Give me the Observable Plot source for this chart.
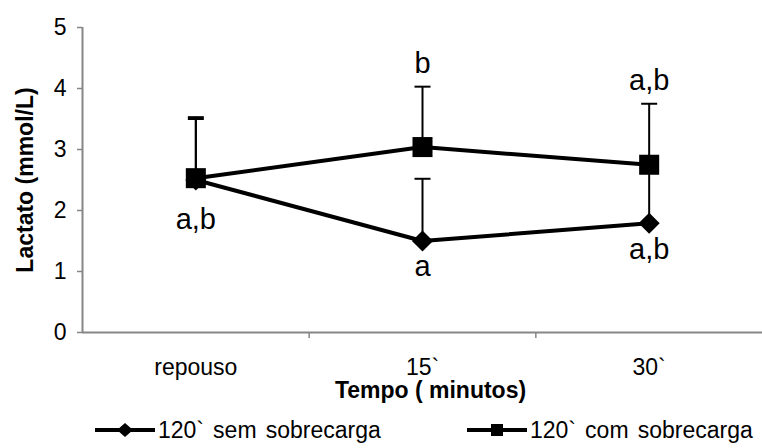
<!DOCTYPE html>
<html>
<head>
<meta charset="utf-8">
<script src="https://cdn.jsdelivr.net/npm/d3@7"></script>
<script src="https://cdn.jsdelivr.net/npm/@observablehq/plot@0.6"></script>
<style>
  body { margin: 0; background: #fff; font-family: "Liberation Sans", Arial, sans-serif; }
  #chart svg { display: block; }
  #legend { display: block; }
</style>
</head>
<body>
<div id="chart"></div>
<svg id="legend" width="762" height="36"></svg>
<script>
// ---- data ----
const categories = ["repouso", "15`", "30`"];
const seriesNames = ["120` sem sobrecarga", "120` com sobrecarga"];
const semMean = [2.50, 1.50, 1.79];
const semSD   = [1.00, 1.02, 0.96];
const comMean = [2.53, 3.04, 2.75];
const comSD   = [1.00, 0.99, 1.00];
const comLettersAbove = ["", "b", "a,b"];
const comLettersBelow = ["a,b", "", ""];
const semLettersBelow = ["", "a", "a,b"];
const yTicks = [0, 1, 2, 3, 4, 5];
const xTitle = "Tempo ( minutos)";
const yTitle = "Lactato (mmol/L)";

// ---- table built from the arrays ----
const sem = categories.map((c, i) => ({i, mean: semMean[i], top: semMean[i] + semSD[i], below: semLettersBelow[i]}));
const com = categories.map((c, i) => ({i, mean: comMean[i], top: comMean[i] + comSD[i], above: comLettersAbove[i], below: comLettersBelow[i]}));
const rows = [...sem, ...com];
const xDomain = [-0.5, categories.length - 0.5];
const boundaries = d3.range(1, categories.length).map(k => k - 0.5);

const capSymbol = {
  draw(ctx, size) { const w = Math.sqrt(size / Math.PI); ctx.moveTo(-w, 0); ctx.lineTo(w, 0); }
};
const axisGray = "#868686";

const chart = Plot.plot({
  width: 762,
  height: 412,
  marginLeft: 82,
  marginRight: 0,
  marginTop: 27,
  marginBottom: 80,
  x: {domain: xDomain, axis: null},
  y: {domain: [0, 5], axis: null},
  style: {fontFamily: '"Liberation Sans", Arial, sans-serif', fontSize: "23px", color: "black", background: "white", overflow: "visible"},
  marks: [
    Plot.axisY({ticks: yTicks, tickSize: 5, tickPadding: 11, stroke: axisGray, strokeWidth: 1.5, tickFormat: d => String(d), fontSize: 23, label: null}),
    Plot.ruleX([xDomain[0]], {stroke: axisGray, strokeWidth: 2}),
    Plot.ruleY([0], {stroke: axisGray, strokeWidth: 2}),
    Plot.axisX({ticks: boundaries, tickSize: 6, tickFormat: () => "", stroke: axisGray, strokeWidth: 1.5, label: null}),
    Plot.axisX({ticks: d3.range(categories.length), tickSize: 0, tickPadding: 26, tickFormat: i => categories[i], fontSize: 23, label: null}),
    Plot.text([xTitle], {frameAnchor: "bottom", textAnchor: "middle", lineAnchor: "middle", dy: 58, dx: 8, fontWeight: "bold", fontSize: 23}),
    Plot.text([yTitle], {frameAnchor: "left", textAnchor: "middle", lineAnchor: "middle", rotate: -90, dx: -57, fontWeight: "bold", fontSize: 23}),
    // error bars (upper only)
    Plot.ruleX(rows, {x: "i", y1: "mean", y2: "top", stroke: "black", strokeWidth: 2}),
    Plot.dot(rows, {x: "i", y: "top", symbol: capSymbol, r: 8, stroke: "black", strokeWidth: 2, fill: "none"}),
    // series
    Plot.line(sem, {x: "i", y: "mean", stroke: "black", strokeWidth: 4}),
    Plot.dot(sem, {x: "i", y: "mean", symbol: "diamond2", r: 9.5, fill: "black", stroke: "none"}),
    Plot.line(com, {x: "i", y: "mean", stroke: "black", strokeWidth: 4}),
    Plot.dot(com, {x: "i", y: "mean", symbol: "square", r: 11.3, fill: "black", stroke: "none"}),
    // significance letters
    Plot.text(com, {x: "i", y: "top", text: "above", dy: -23, fontSize: 29}),
    Plot.text(com, {x: "i", y: "mean", text: "below", dy: 42, fontSize: 29}),
    Plot.text(sem, {x: "i", y: "mean", text: "below", dy: 26, fontSize: 29})
  ]
});
document.getElementById("chart").appendChild(chart);

// ---- legend ----
const legend = d3.select("#legend");
const items = [
  {name: seriesNames[0], x0: 95, shape: "diamond"},
  {name: seriesNames[1], x0: 467, shape: "square"}
];
const cy = 18;
items.forEach(it => {
  const g = legend.append("g");
  g.append("line").attr("x1", it.x0).attr("x2", it.x0 + 60).attr("y1", cy).attr("y2", cy)
    .attr("stroke", "black").attr("stroke-width", 4);
  const cx = it.x0 + 30;
  if (it.shape === "diamond") {
    g.append("path").attr("d", `M${cx - 8},${cy}L${cx},${cy - 7}L${cx + 8},${cy}L${cx},${cy + 7}Z`).attr("fill", "black");
  } else {
    g.append("rect").attr("x", cx - 6).attr("y", cy - 6).attr("width", 12).attr("height", 12).attr("fill", "black");
  }
  g.append("text").attr("x", it.x0 + 63).attr("y", cy).attr("dy", "0.35em")
    .attr("font-size", 23).attr("word-spacing", "2.7px")
    .attr("font-family", '"Liberation Sans", Arial, sans-serif').text(it.name);
});
</script>
</body>
</html>
